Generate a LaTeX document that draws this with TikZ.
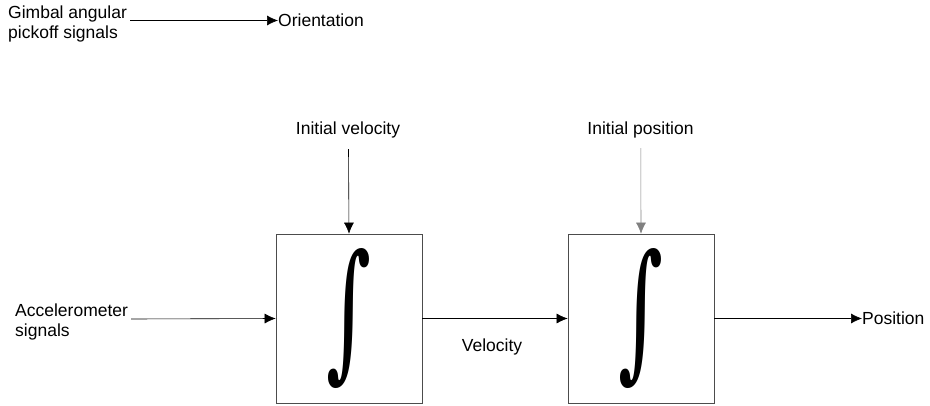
\documentclass[tikz,border=0pt]{standalone}
\usepackage{fontspec}
\setmainfont{Liberation Sans}
\newfontfamily\intfont{DejaVu Serif}
\usetikzlibrary{arrows.meta}
\begin{document}
\begin{tikzpicture}[x=1pt,y=-1pt,
  lbl/.style={font=\fontsize{17.5}{20}\selectfont, inner sep=0pt, align=left},
  integ/.style={draw=black!70, line width=0.7pt, minimum width=146pt, minimum height=169pt, inner sep=0pt},
  arr/.style={-{Latex[length=11pt,width=10pt]}, line width=0.6pt}]
\useasboundingbox (0,0) rectangle (930,405);
\node[lbl, anchor=north west] (gimbal) at (8,6) {Gimbal angular\\pickoff signals};
\node[lbl, anchor=west] (orient) at (278,20.5) {Orientation};
\coordinate (gimbalend) at (130,20.5);
\draw[arr] (gimbalend) -- (orient.west);

\node[integ] (box1) at (349,318.5) {\resizebox*{45pt}{140pt}{\intfont ∫}};
\node[integ] (box2) at (641,318.5) {\resizebox*{45pt}{140pt}{\intfont ∫}};

\node[lbl] (iv) at (348,130) {Initial velocity};
\node[lbl] (ip) at (640.5,130) {Initial position};
\coordinate (ivs) at (348.5,149);
\coordinate (ips) at (640.8,148);
\draw[arr] (ivs) -- (box1.north);
\draw[arr, draw=gray] (ips) -- (box2.north);

\node[lbl, anchor=north west] (acc) at (15,304) {Accelerometer\\signals};
\coordinate (accend) at (131,319);
\draw[arr] (accend) -- (box1.west);

\draw[arr] (box1.east) -- (box2.west);
\node[lbl] (vel) at (492,347) {Velocity};

\node[lbl, anchor=west] (pos) at (862,318.5) {Position};
\draw[arr] (box2.east) -- (pos.west);
\end{tikzpicture}
\end{document}
